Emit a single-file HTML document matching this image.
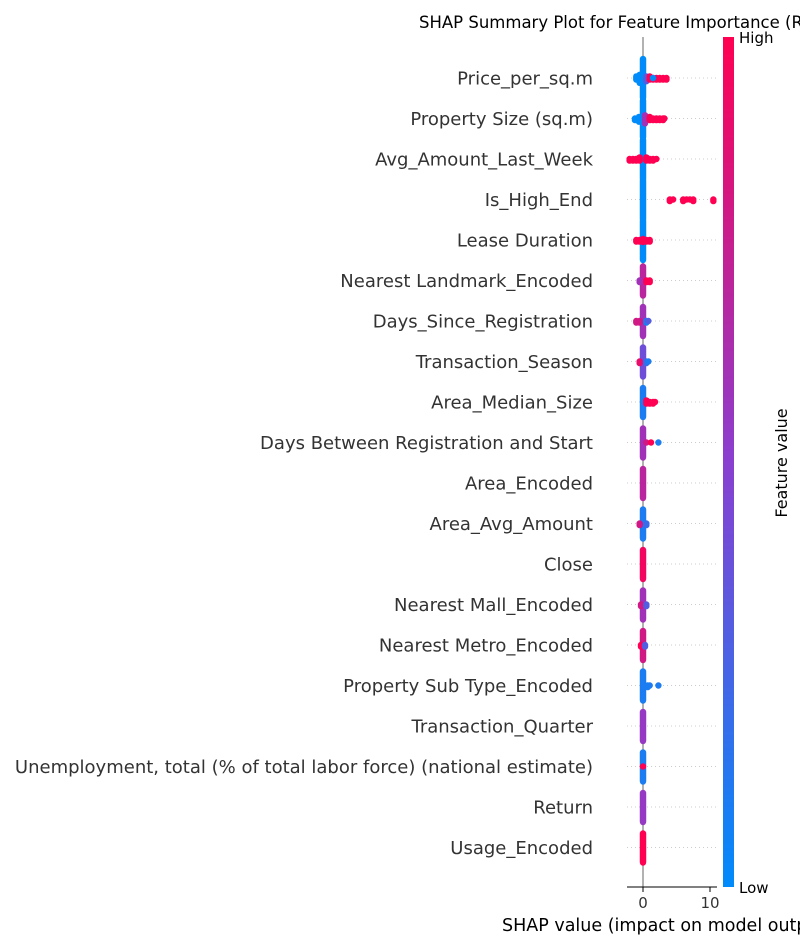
<!DOCTYPE html>
<html><head><meta charset="utf-8"><style>
body{margin:0;background:#fff;}
svg{display:block;font-family:"Liberation Sans","DejaVu Sans",sans-serif;}
</style></head><body>
<svg id="chart" width="800" height="950" viewBox="0 0 800 950">
<defs><linearGradient id="cb" x1="0" y1="1" x2="0" y2="0">
<stop offset="0" stop-color="#008bfb"/><stop offset="0.5" stop-color="#8a3fd0"/><stop offset="1" stop-color="#ff0052"/></linearGradient></defs>
<text x="419" y="28" font-size="16.5" fill="#000" font-family="DejaVu Sans, sans-serif">SHAP Summary Plot for Feature Importance (R</text>
<line x1="643" y1="37" x2="643" y2="887" stroke="#999" stroke-width="1.5"/>
<g id="grid"></g><g id="labels"></g><g id="dots"></g>
<line x1="627" y1="887" x2="717" y2="887" stroke="#000" stroke-width="1"/>
<g id="ticks"></g>
<text x="502" y="931" font-size="17.5" fill="#000" font-family="DejaVu Sans, sans-serif">SHAP value (impact on model output)</text>
<rect x="723" y="37" width="11" height="850" fill="url(#cb)"/>
<text x="739" y="43" font-size="15" fill="#000" font-family="DejaVu Sans, sans-serif">High</text>
<text x="739" y="893" font-size="15" fill="#000" font-family="DejaVu Sans, sans-serif">Low</text>
<text x="787" y="463" font-size="16" fill="#000" text-anchor="middle" transform="rotate(-90 787 463)" font-family="DejaVu Sans, sans-serif">Feature value</text>
</svg>
<script>
const features=["Price_per_sq.m","Property Size (sq.m)","Avg_Amount_Last_Week","Is_High_End","Lease Duration","Nearest Landmark_Encoded","Days_Since_Registration","Transaction_Season","Area_Median_Size","Days Between Registration and Start","Area_Encoded","Area_Avg_Amount","Close","Nearest Mall_Encoded","Nearest Metro_Encoded","Property Sub Type_Encoded","Transaction_Quarter","Unemployment, total (% of total labor force) (national estimate)","Return","Usage_Encoded"];
// each point: [shap value, count, feature value fraction 0..1]
const pts0=[[0,40,0],[-1,3,0],[-0.5,6,0],[0.5,4,0.3],[1,3,1],[1.5,2,1],[2,2,1],[2.5,2,1],[3,2,1],[3.5,2,1],[1.5,1,0]];
const pts1=[[0,38,0],[-1.2,2,0],[-0.6,4,0],[0.3,6,0.6],[1,3,1],[1.5,2,1],[2,2,1],[2.5,2,1],[3,2,1],[3.2,1,1]];
const pts2=[[0,40,0],[-2,2,1],[-1.5,2,1],[-1,2,1],[-0.5,3,1],[0.5,3,1],[1,2,1],[1.5,2,1],[2,1,1]];
const pts3=[[0,40,0],[4,2,1],[4.5,1,1],[6,2,1],[6.5,1,1],[7,1,1],[7.5,2,1],[10.5,2,1]];
const pts4=[[0,40,0],[-1,2,1],[-0.5,2,1],[0.5,2,1],[1,2,1],[0,4,1]];
const pts5=[[0,30,0.7],[-0.5,2,0.6],[0.5,2,1],[1,2,1]];
const pts6=[[0,30,0.6],[-1,2,0.8],[-0.5,2,0.8],[0.5,2,0.1],[0.8,1,0.3]];
const pts7=[[0,30,0.4],[-0.5,2,0.9],[0.5,2,0.2],[0.8,1,0.1]];
const pts8=[[0,30,0.1],[0.5,3,1],[1,2,1],[1.5,2,1],[1.8,1,1]];
const pts9=[[0,30,0.6],[0.5,1,0.8],[1.2,1,1],[2.3,1,0.1]];
const pts10=[[0,30,0.7]];
const pts11=[[0,30,0.1],[-0.5,2,0.8],[0.5,2,0.2]];
const pts12=[[0,30,0.95]];
const pts13=[[0,30,0.6],[-0.3,2,0.8],[0.5,2,0.3]];
const pts14=[[0,30,0.8],[-0.3,2,1],[0.3,2,0.3]];
const pts15=[[0,30,0.1],[0.7,2,0.1],[1,1,0.1],[2.3,1,0.1]];
const pts16=[[0,30,0.55]];
const pts17=[[0,30,0.1],[0,1,1]];
const pts18=[[0,30,0.55]];
const pts19=[[0,30,1]];
const allPts=[pts0,pts1,pts2,pts3,pts4,pts5,pts6,pts7,pts8,pts9,pts10,pts11,pts12,pts13,pts14,pts15,pts16,pts17,pts18,pts19];
const xTicks=[0,10];

const NS="http://www.w3.org/2000/svg";
const xS=v=>643+v*6.7;
const yS=i=>78+i*40.5;
function col(f){
  const a=[0,139,251],m=[138,63,208],b=[255,0,82];
  let c0,c1,t;
  if(f<0.5){c0=a;c1=m;t=f/0.5;}else{c0=m;c1=b;t=(f-0.5)/0.5;}
  return "rgb("+c0.map((v,k)=>Math.round(v+(c1[k]-v)*t)).join(",")+")";
}
function mk(tag,attrs,parent){const e=document.createElementNS(NS,tag);for(const k in attrs)e.setAttribute(k,attrs[k]);parent.appendChild(e);return e;}
const G=document.getElementById("grid"),L=document.getElementById("labels"),D=document.getElementById("dots"),T=document.getElementById("ticks");
features.forEach((f,i)=>{
  const y=yS(i);
  const g=mk("line",{x1:627,x2:717,y1:y,y2:y,stroke:"#ccc","stroke-width":1,"stroke-dasharray":"1,3"},G);
  
  
  const t=mk("text",{x:593,y:y+6.5,"font-size":18,fill:"#333","text-anchor":"end","font-family":"DejaVu Sans, sans-serif"},L);
  t.textContent=f;
  
  
  allPts[i].forEach(p=>{
    const n=p[1];
    for(let k=0;k<n;k++){
      const off=Math.ceil(k/2)*(k%2?1:-1)*(p[0]===0?1:1.6);
      const c=mk("circle",{cx:xS(p[0]),cy:y+off,r:3.2,fill:col(p[2])},D);
      
      
    }
  });
});
xTicks.forEach(v=>{
  const l=mk("line",{x1:xS(v),x2:xS(v),y1:887,y2:892,stroke:"#000"},T);
  
  
  const t=mk("text",{x:xS(v),y:908,"font-size":15,fill:"#333","text-anchor":"middle","font-family":"DejaVu Sans, sans-serif"},T);
  t.textContent=v;
  
  
});
</script>
</body></html>
